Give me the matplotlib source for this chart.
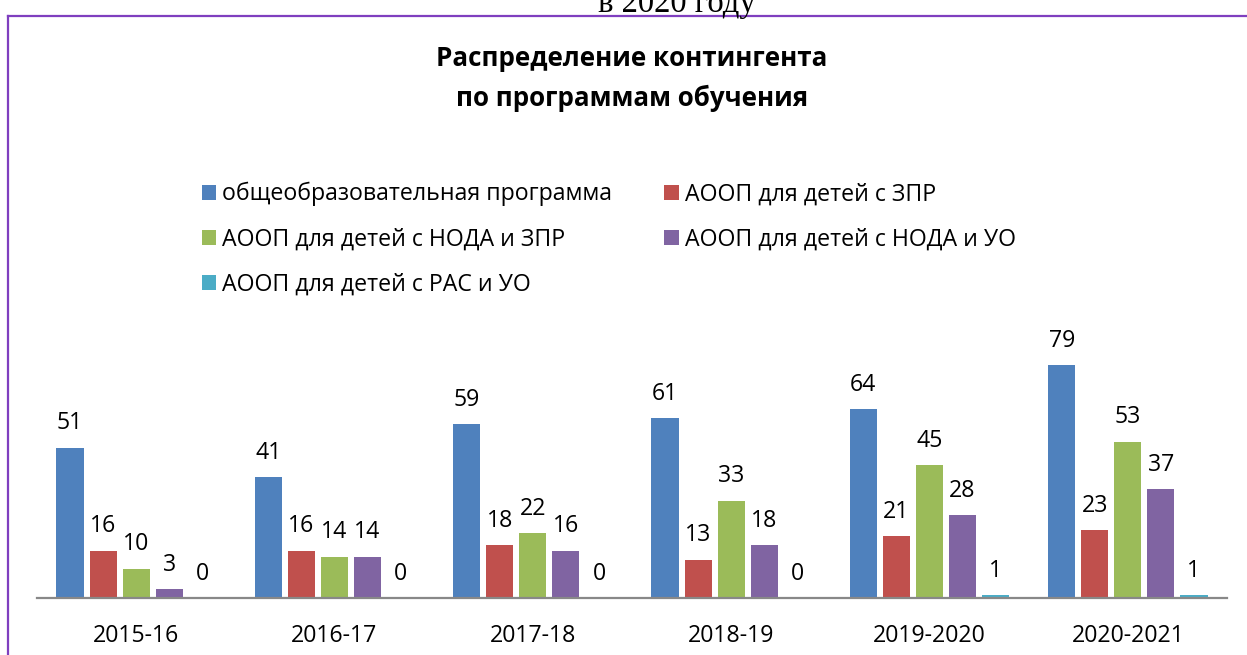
import matplotlib
matplotlib.use("Agg")
import matplotlib.pyplot as plt
from matplotlib.patches import Patch
from matplotlib.lines import Line2D
import numpy as np

plt.rcParams['font.family'] = ['Open Sans', 'DejaVu Sans']

categories = ["2015-16", "2016-17", "2017-18", "2018-19", "2019-2020", "2020-2021"]
series_names = [
    "общеобразовательная программа",
    "АООП для детей с ЗПР",
    "АООП для детей с НОДА и ЗПР",
    "АООП для детей с НОДА и УО",
    "АООП для детей с РАС и УО",
]
general = [51, 41, 59, 61, 64, 79]
zpr = [16, 16, 18, 13, 21, 23]
noda_zpr = [10, 14, 22, 33, 45, 53]
noda_uo = [3, 14, 16, 18, 28, 37]
ras_uo = [0, 0, 0, 0, 1, 1]
series = [general, zpr, noda_zpr, noda_uo, ras_uo]
colors = ["#4F81BD", "#C0504D", "#9BBB59", "#8064A2", "#4BACC6"]

W, H = 1247, 655
fig = plt.figure(figsize=(W / 100, H / 100), dpi=100)

ax_left, ax_right = 37, 1227
ax_bottom = 598
px_per_unit = 2.95
ymax = 90
ax_top = ax_bottom - ymax * px_per_unit
ax = fig.add_axes([ax_left / W, (H - ax_bottom) / H, (ax_right - ax_left) / W, (ax_bottom - ax_top) / H])
ax.set_xlim(-0.5, len(categories) - 0.5)
ax.set_ylim(0, ymax)

FS = 16.7

x = np.arange(len(categories))
slot = 1 / 6
bw = 0.137
handles = []
for i, (vals, col, name) in enumerate(zip(series, colors, series_names)):
    off = (i - 2) * slot
    ax.bar(x + off, vals, width=bw, color=col, edgecolor='none', zorder=2)
    for xi, v in zip(x, vals):
        ax.annotate(str(v), (xi + off, v), xytext=(0, 17.5), textcoords='offset points',
                    ha='center', va='center', fontsize=FS, color='black')
    handles.append(Patch(facecolor=col, edgecolor='none', label=name))

for s in ['top', 'left', 'right']:
    ax.spines[s].set_visible(False)
ax.spines['bottom'].set_color('#888888')
ax.spines['bottom'].set_linewidth(1.6)
ax.spines['bottom'].set_zorder(3)
ax.set_yticks([])
ax.set_xticks(x)
ax.set_xticklabels(categories, fontsize=FS)
ax.tick_params(axis='x', length=0, pad=19)

order = [0, 2, 4, 1, 3]
leg = fig.legend([handles[k] for k in order], [series_names[k] for k in order],
                 ncol=2, loc='upper left', bbox_to_anchor=(202 / W, 1 - 182 / H),
                 frameon=False, fontsize=FS, borderpad=0, borderaxespad=0,
                 handlelength=0.62, handleheight=0.62, handletextpad=0.25,
                 labelspacing=0.92, columnspacing=2.25)

fig.text(632 / W, 1 - 58 / H, "Распределение контингента",
         ha='center', va='center', fontsize=18.7, fontweight='bold')
fig.text(632 / W, 1 - 98 / H, "по программам обучения",
         ha='center', va='center', fontsize=18.7, fontweight='bold')

fig.text(677 / W, 1 - 12 / H, "в 2020 году", ha='center', va='baseline',
         fontsize=23.5, family='Liberation Serif')

frame_col = '#7F3FBF'
fig.add_artist(Line2D([7.5 / W, 1], [1 - 15.5 / H, 1 - 15.5 / H], color=frame_col, lw=1.6,
                      transform=fig.transFigure))
fig.add_artist(Line2D([7.5 / W, 7.5 / W], [0, 1 - 15.5 / H], color=frame_col, lw=1.6,
                      transform=fig.transFigure))

fig.savefig("out.png", dpi=100)
